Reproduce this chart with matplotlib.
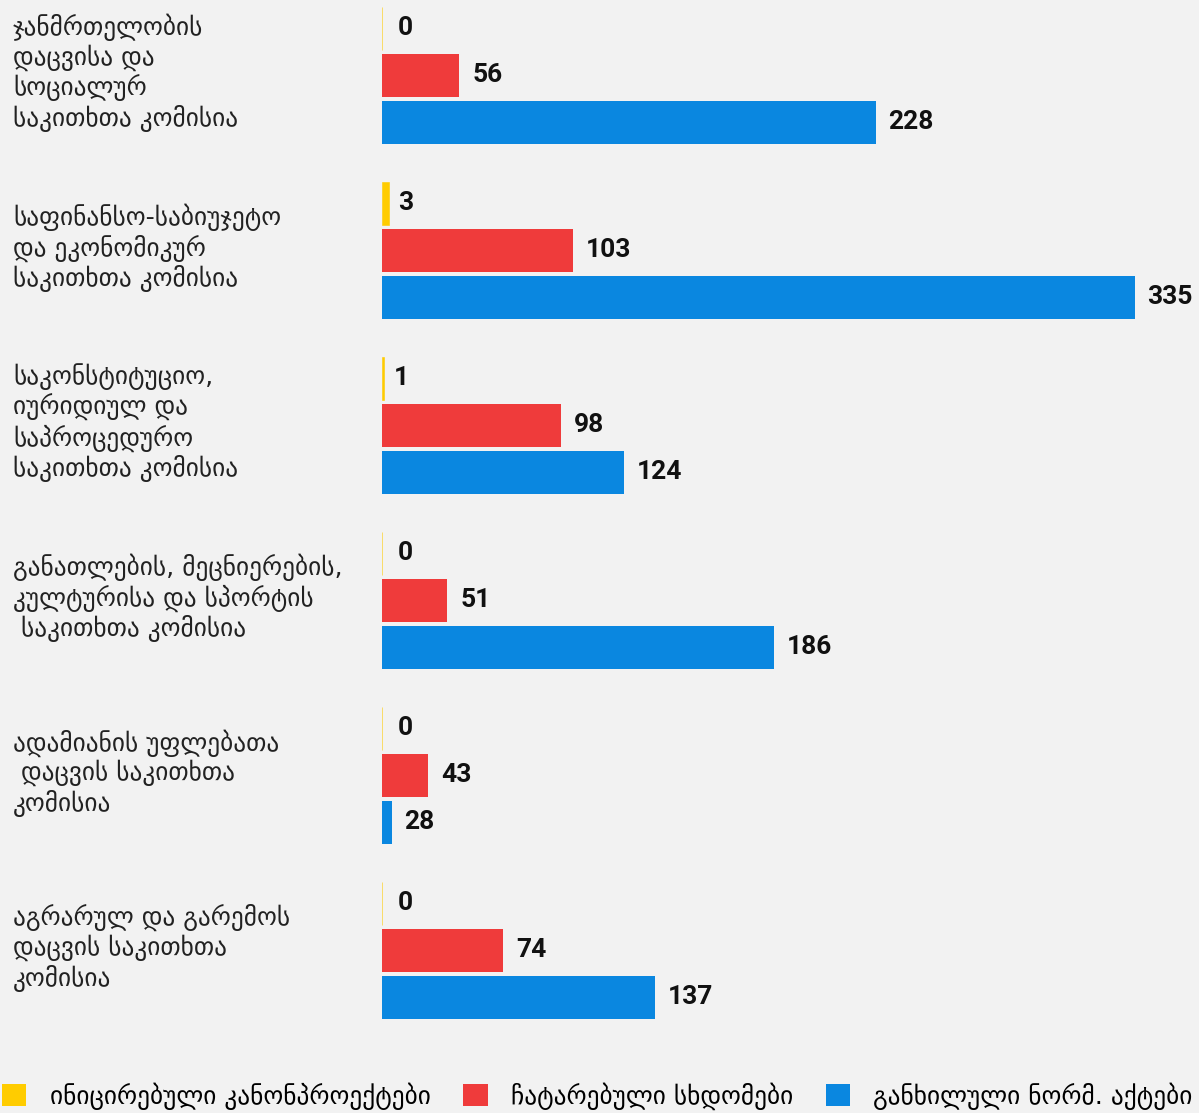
import matplotlib
matplotlib.use("Agg")
import matplotlib.pyplot as plt
import matplotlib.transforms as mtransforms
from matplotlib.patches import Patch
import numpy as np

# კატეგორიები (კომისიები)
categories = [
    "ჯანმრთელობის\nდაცვისა და\nსოციალურ\nსაკითხთა კომისია",
    "საფინანსო-საბიუჯეტო\nდა ეკონომიკურ\nსაკითხთა კომისია",
    "საკონსტიტუციო,\nიურიდიულ და\nსაპროცედურო\nსაკითხთა კომისია",
    "განათლების, მეცნიერების,\nკულტურისა და სპორტის\n საკითხთა კომისია",
    "ადამიანის უფლებათა\n დაცვის საკითხთა\nკომისია",
    "აგრარულ და გარემოს\nდაცვის საკითხთა\nკომისია",
]
initiated = [0, 3, 1, 0, 0, 0]
sessions = [56, 103, 98, 51, 43, 74]
acts = [228, 335, 124, 186, 28, 137]

series_names = ["ინიცირებული კანონპროექტები", "ჩატარებული სხდომები", "განხილული ნორმ. აქტები"]
colors = ["#FFCC00", "#EF3B3B", "#0A87E0"]
bg = "#F2F2F2"

W, H = 1199, 1113
fig = plt.figure(figsize=(W / 100, H / 100), dpi=100, facecolor=bg)
ax = fig.add_axes([382 / W, (H - 1050) / H, (W - 382) / W, 1050 / H])
ax.set_facecolor(bg)

y = np.arange(len(categories))
step = 47 / 175
bh = 43 / 175
x0 = 24.0  # ღერძის ხილული დასაწყისი

ax.barh(y - step, initiated, left=x0, height=bh, color=colors[0],
        edgecolor=colors[0], linewidth=0.4)
ax.barh(y, sessions, height=bh, color=colors[1], linewidth=0)
ax.barh(y + step, acts, height=bh, color=colors[2], linewidth=0)

ax.set_xlim(x0, 361.6)
ax.set_ylim(5.569, -0.431)
ax.axis("off")

lab_font = dict(fontfamily="Roboto", fontweight="bold", fontsize=19, color="#111111")
for i in range(len(categories)):
    pad_y = 11.5 if initiated[i] == 0 else 6.5
    for dy, val, start, pad in [(-step, initiated[i], x0, pad_y), (0, sessions[i], 0, 9.4),
                                (step, acts[i], 0, 9.0)]:
        ax.annotate(str(val), (start + val, i + dy), xytext=(pad, 0),
                    textcoords="offset points", va="center", ha="left", **lab_font)

trans = mtransforms.blended_transform_factory(fig.transFigure, ax.transData)
for i, c in enumerate(categories):
    ax.text(13 / W, i - 0.015, c, transform=trans, va="center", ha="left",
            fontsize=18.2, fontfamily="DejaVu Sans", color="#222222",
            linespacing=1.16, clip_on=False)

handles = [Patch(facecolor=col, edgecolor="none") for col in colors]
fig.legend(handles, series_names, loc="center left", bbox_to_anchor=(2 / W, 1 - 1096 / H),
           ncol=3, frameon=False, fontsize=18.2, handlelength=0.96, handleheight=0.96,
           handletextpad=0.92, columnspacing=1.3, borderaxespad=0, borderpad=0)

fig.savefig("out.png", dpi=100, facecolor=bg)
